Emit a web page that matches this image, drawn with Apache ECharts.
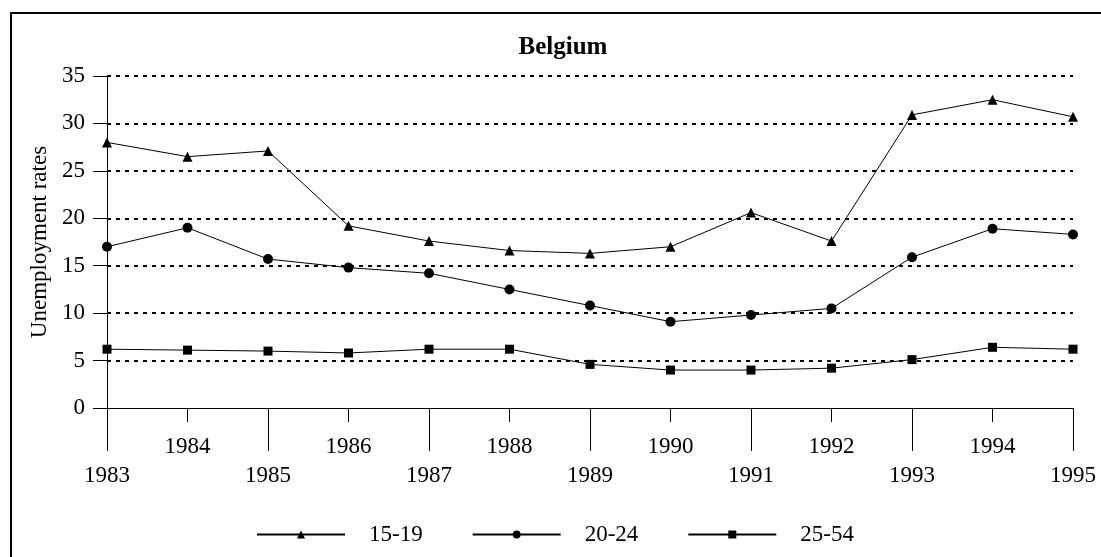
<!DOCTYPE html>
<html>
<head>
<meta charset="utf-8">
<script src="https://cdn.jsdelivr.net/npm/echarts@6/dist/echarts.min.js"></script>
<style>
  html, body { margin: 0; padding: 0; background: #fff; }
  #chart { width: 1101px; height: 557px; }
</style>
</head>
<body>
<div id="chart"></div>
<script>
var years = ['1983', '1984', '1985', '1986', '1987', '1988', '1989', '1990', '1991', '1992', '1993', '1994', '1995']
var age1519 = [28.0, 26.5, 27.1, 19.2, 17.6, 16.6, 16.3, 17.0, 20.6, 17.6, 30.9, 32.5, 30.7]
var age2024 = [17.0, 19.0, 15.7, 14.8, 14.2, 12.5, 10.8, 9.1, 9.8, 10.5, 15.9, 18.9, 18.3]
var age2554 = [6.2, 6.1, 6.0, 5.8, 6.2, 6.2, 4.6, 4.0, 4.0, 4.2, 5.1, 6.4, 6.2]
var seriesNames = ['15-19', '20-24', '25-54']

var font = 'Liberation Serif'
var myChart = echarts.init(document.getElementById('chart'))

function lineSeries(name, data, symbol, size) {
  return {
    name: name,
    type: 'line',
    data: data,
    symbol: symbol,
    symbolSize: size,
    showAllSymbol: true,
    itemStyle: { color: '#000' },
    lineStyle: { color: '#000', width: 1 }
  }
}

var option = {
  animation: false,
  backgroundColor: '#fff',
  graphic: [{
    type: 'rect',
    shape: { x: 11, y: 13, width: 1300, height: 700 },
    style: { fill: 'none', stroke: '#000', lineWidth: 2 },
    silent: true
  }],
  title: {
    text: 'Belgium',
    left: 558,
    textAlign: 'center',
    top: 30,
    textStyle: { fontFamily: font, fontSize: 25, fontWeight: 'bold', color: '#000' }
  },
  legend: {
    left: 251,
    top: 518,
    itemWidth: 88,
    itemHeight: 10,
    itemGap: 49,
    data: seriesNames,
    textStyle: { fontFamily: font, fontSize: 23, color: '#000', padding: [0, 0, 0, 19] }
  },
  grid: { left: 107, right: 28, top: 76, bottom: 149 },
  xAxis: [{
    type: 'category',
    data: years,
    boundaryGap: false,
    axisLine: { lineStyle: { color: '#000', width: 1 } },
    axisTick: {
      length: 43,
      interval: function (i) { return i % 2 === 0 },
      lineStyle: { color: '#000' }
    },
    axisLabel: {
      interval: 0,
      margin: 24,
      lineHeight: 29,
      fontFamily: font,
      fontSize: 23,
      color: '#000',
      formatter: function (v, i) { return i % 2 === 0 ? '\n' + v : v }
    }
  }, {
    type: 'category',
    data: years,
    position: 'bottom',
    boundaryGap: false,
    axisLine: { show: false },
    axisTick: {
      length: 14,
      interval: function (i) { return i % 2 === 1 },
      lineStyle: { color: '#000' }
    },
    axisLabel: { show: false }
  }],
  yAxis: {
    type: 'value',
    min: 0,
    max: 35,
    interval: 5,
    name: 'Unemployment rates',
    nameLocation: 'middle',
    nameGap: 47,
    nameTextStyle: { fontFamily: font, fontSize: 23, color: '#000' },
    axisLine: { show: true, lineStyle: { color: '#000', width: 1 } },
    axisTick: { show: true, length: 14, lineStyle: { color: '#000' } },
    axisLabel: { margin: 22, fontFamily: font, fontSize: 23, color: '#000' },
    splitLine: {
      show: true,
      showMinLine: false,
      lineStyle: { color: '#000', type: [4, 5], width: 2 }
    }
  },
  series: [
    lineSeries(seriesNames[0], age1519, 'triangle', 10),
    lineSeries(seriesNames[1], age2024, 'circle', 10),
    lineSeries(seriesNames[2], age2554, 'rect', 9)
  ]
}
myChart.setOption(option)
</script>
</body>
</html>
